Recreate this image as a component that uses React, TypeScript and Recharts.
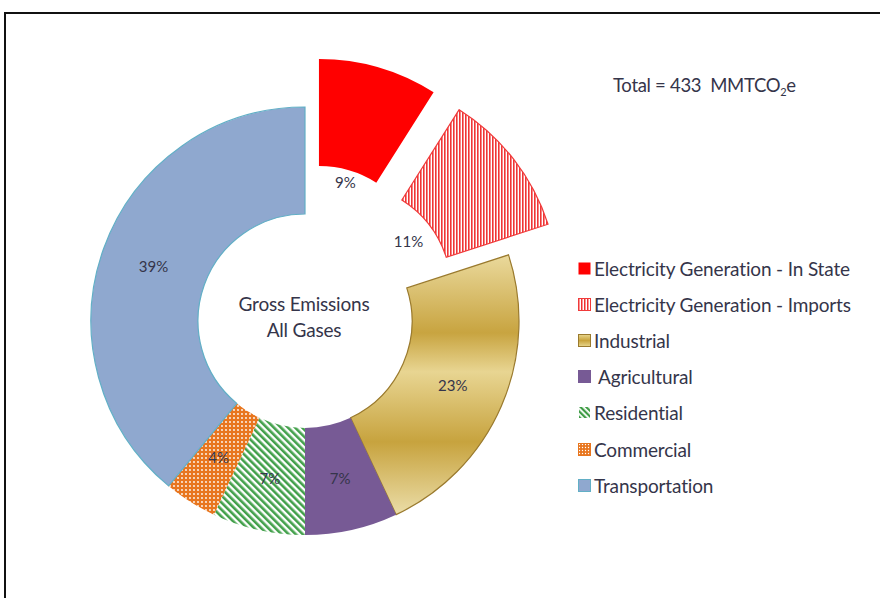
import React from 'react';
import { PieChart, Pie, Cell, Legend } from 'recharts';

const categories = [
    'Electricity Generation - In State',
    'Electricity Generation - Imports',
    'Industrial',
    'Agricultural',
    'Residential',
    'Commercial',
    'Transportation',
];
const shares = [9, 11, 23, 7, 7, 4, 39];
const totalLabel = '433';

const data = categories.map((name, i) => ({ name, value: shares[i] }));

const fills = [
    '#FF0000',
    'url(#pImports)',
    'url(#gIndustrial)',
    '#775A95',
    'url(#pResidential)',
    'url(#pCommercial)',
    '#8FA8CF',
];
const strokes = ['none', '#F03A3A', '#9A7A2E', 'none', 'none', 'none', '#62AFC6'];

// slices pulled out of the ring
const explodedNames = ['Electricity Generation - In State', 'Electricity Generation - Imports'];
const explodeDist = 50;
// labels of the pulled-out slices sit nearer the hole
const labelRadius: Record<string, number> = {
    'Electricity Generation - In State': 145,
    'Electricity Generation - Imports': 131,
};

const CX = 305;
const CY = 321;
const INNER = 107;
const OUTER = 214;
const FONT = 'Lato, "Open Sans", sans-serif';
const TEXT = '#35354a';

const total = shares.reduce((a, b) => a + b, 0);
const midFrac = (idx: number) => {
    let before = 0;
    for (let i = 0; i < idx; i++) before += shares[i];
    return (before + shares[idx] / 2) / total;
};

const renderLabel = (props: any) => {
    const { midAngle, index, name } = props;
    const r = labelRadius[name] ?? 161;
    const rad = (midAngle * Math.PI) / 180;
    const x = CX + r * Math.cos(rad);
    const y = CY - r * Math.sin(rad);
    return (
        <text x={x} y={y} textAnchor="middle" dominantBaseline="central" fill={TEXT} fontSize={15} fontFamily={FONT}>
            {`${shares[index]}%`}
        </text>
    );
};

const legendIcon = (i: number) => {
    const id = `lg${i}`;
    return (
        <svg width={13} height={13} style={{ marginRight: 3, flex: 'none' }}>
            <defs>
                <pattern id={`${id}a`} width={3} height={4} patternUnits="userSpaceOnUse">
                    <rect width={3} height={4} fill="#fff" />
                    <rect width={1.5} height={4} fill="#F03030" />
                </pattern>
                <pattern id={`${id}b`} width={4} height={4} patternUnits="userSpaceOnUse" patternTransform="rotate(-45)">
                    <rect width={4} height={4} fill="#fff" />
                    <rect width={2.2} height={4} fill="#3E9C45" />
                </pattern>
                <pattern id={`${id}c`} width={3} height={3} patternUnits="userSpaceOnUse">
                    <rect width={3} height={3} fill="#E8761F" />
                    <circle cx={1.5} cy={1.5} r={0.7} fill="#fff" />
                </pattern>
                <linearGradient id={`${id}d`} x1="0" y1="0" x2="0" y2="1">
                    <stop offset="0" stopColor="#E8D68E" />
                    <stop offset="0.5" stopColor="#C9A43C" />
                    <stop offset="1" stopColor="#E8D68E" />
                </linearGradient>
            </defs>
            {i === 4 ? (
                <rect x={1} y={1} width={11} height={11} fill={`url(#${id}b)`} />
            ) : (
                <rect
                    x={0.5}
                    y={0.5}
                    width={12}
                    height={12}
                    fill={
                        i === 1 ? `url(#${id}a)` : i === 2 ? `url(#${id}d)` : i === 5 ? `url(#${id}c)` : fills[i]
                    }
                    stroke={i === 0 ? 'none' : strokes[i] === 'none' ? fills[i] : strokes[i]}
                />
            )}
        </svg>
    );
};

const renderLegend = () => (
    <div style={{ fontFamily: FONT, fontSize: 19, color: TEXT, letterSpacing: -0.15 }}>
        {categories.map((c, i) => (
            <div key={c} style={{ display: 'flex', alignItems: 'center', height: 36.2 }}>
                {legendIcon(i)}
                <span style={{ marginLeft: i === 3 ? 4 : 0 }}>{c}</span>
            </div>
        ))}
    </div>
);

const App = () => {
    return (
        <div style={{ position: 'fixed', left: 0, top: 0, width: 880, height: 598, overflow: 'hidden', background: '#fff' }}>
            <PieChart width={880} height={598} margin={{ top: 0, right: 0, bottom: 0, left: 0 }}>
                <defs>
                    <pattern id="pImports" width={3} height={10} patternUnits="userSpaceOnUse">
                        <rect width={3} height={10} fill="#fff" />
                        <rect width={1.6} height={10} fill="#F03535" />
                    </pattern>
                    <pattern id="pResidential" width={5} height={5} patternUnits="userSpaceOnUse" patternTransform="rotate(-45)">
                        <rect width={5} height={5} fill="#fff" />
                        <rect width={2.6} height={5} fill="#42A04A" />
                    </pattern>
                    <pattern id="pCommercial" width={4} height={4} patternUnits="userSpaceOnUse">
                        <rect width={4} height={4} fill="#E8761F" />
                        <circle cx={2} cy={2} r={0.9} fill="#fff" />
                    </pattern>
                    <linearGradient id="gIndustrial" x1="0" y1="0" x2="0" y2="1">
                        <stop offset="0" stopColor="#EAD99C" />
                        <stop offset="0.3" stopColor="#C8A440" />
                        <stop offset="0.45" stopColor="#E8D592" />
                        <stop offset="0.72" stopColor="#C7A33E" />
                        <stop offset="1" stopColor="#EBDDA8" />
                    </linearGradient>
                </defs>
                <rect x={5} y={13} width={1000} height={1000} fill="none" stroke="#111" strokeWidth={2} />

                <Pie
                    data={data}
                    dataKey="value"
                    nameKey="name"
                    cx={CX}
                    cy={CY}
                    innerRadius={INNER}
                    outerRadius={OUTER}
                    startAngle={90}
                    endAngle={-270}
                    label={renderLabel}
                    labelLine={false}
                    isAnimationActive={false}
                >
                    {data.map((d, i) => (
                        <Cell
                            key={d.name}
                            fill={explodedNames.includes(d.name) ? 'transparent' : fills[i]}
                            stroke={explodedNames.includes(d.name) ? 'none' : strokes[i]}
                            strokeWidth={1.2}
                        />
                    ))}
                </Pie>

                {explodedNames.map((name) => {
                    const idx = categories.indexOf(name);
                    const a = midFrac(idx) * 2 * Math.PI;
                    return (
                        <Pie
                            key={name}
                            data={data}
                            dataKey="value"
                            nameKey="name"
                            cx={CX + explodeDist * Math.sin(a)}
                            cy={CY - explodeDist * Math.cos(a)}
                            innerRadius={INNER}
                            outerRadius={OUTER}
                            startAngle={90}
                            endAngle={-270}
                            isAnimationActive={false}
                        >
                            {data.map((d, i) => (
                                <Cell
                                    key={d.name}
                                    fill={i === idx ? fills[i] : 'transparent'}
                                    stroke={i === idx ? strokes[i] : 'none'}
                                    strokeWidth={1.2}
                                />
                            ))}
                        </Pie>
                    );
                })}

                <text x={CX - 1} y={CY - 10} textAnchor="middle" fontSize={19} fontFamily={FONT} fill={TEXT} letterSpacing={-0.2}>
                    Gross Emissions
                </text>
                <text x={CX - 1} y={CY + 16} textAnchor="middle" fontSize={19} fontFamily={FONT} fill={TEXT} letterSpacing={-0.2}>
                    All Gases
                </text>
                <text x={613} y={92} fontSize={18.5} fontFamily={FONT} fill={TEXT} letterSpacing={-0.3}>
                    {`Total = ${totalLabel}\u00A0\u00A0MMTCO`}
                    <tspan fontSize={11} dy={4}>2</tspan>
                    <tspan dy={-4}>e</tspan>
                </text>

                <Legend
                    content={renderLegend}
                    layout="vertical"
                    wrapperStyle={{ position: 'absolute', left: 578, top: 250, width: 300 }}
                />
            </PieChart>
        </div>
    );
};

export default App;
